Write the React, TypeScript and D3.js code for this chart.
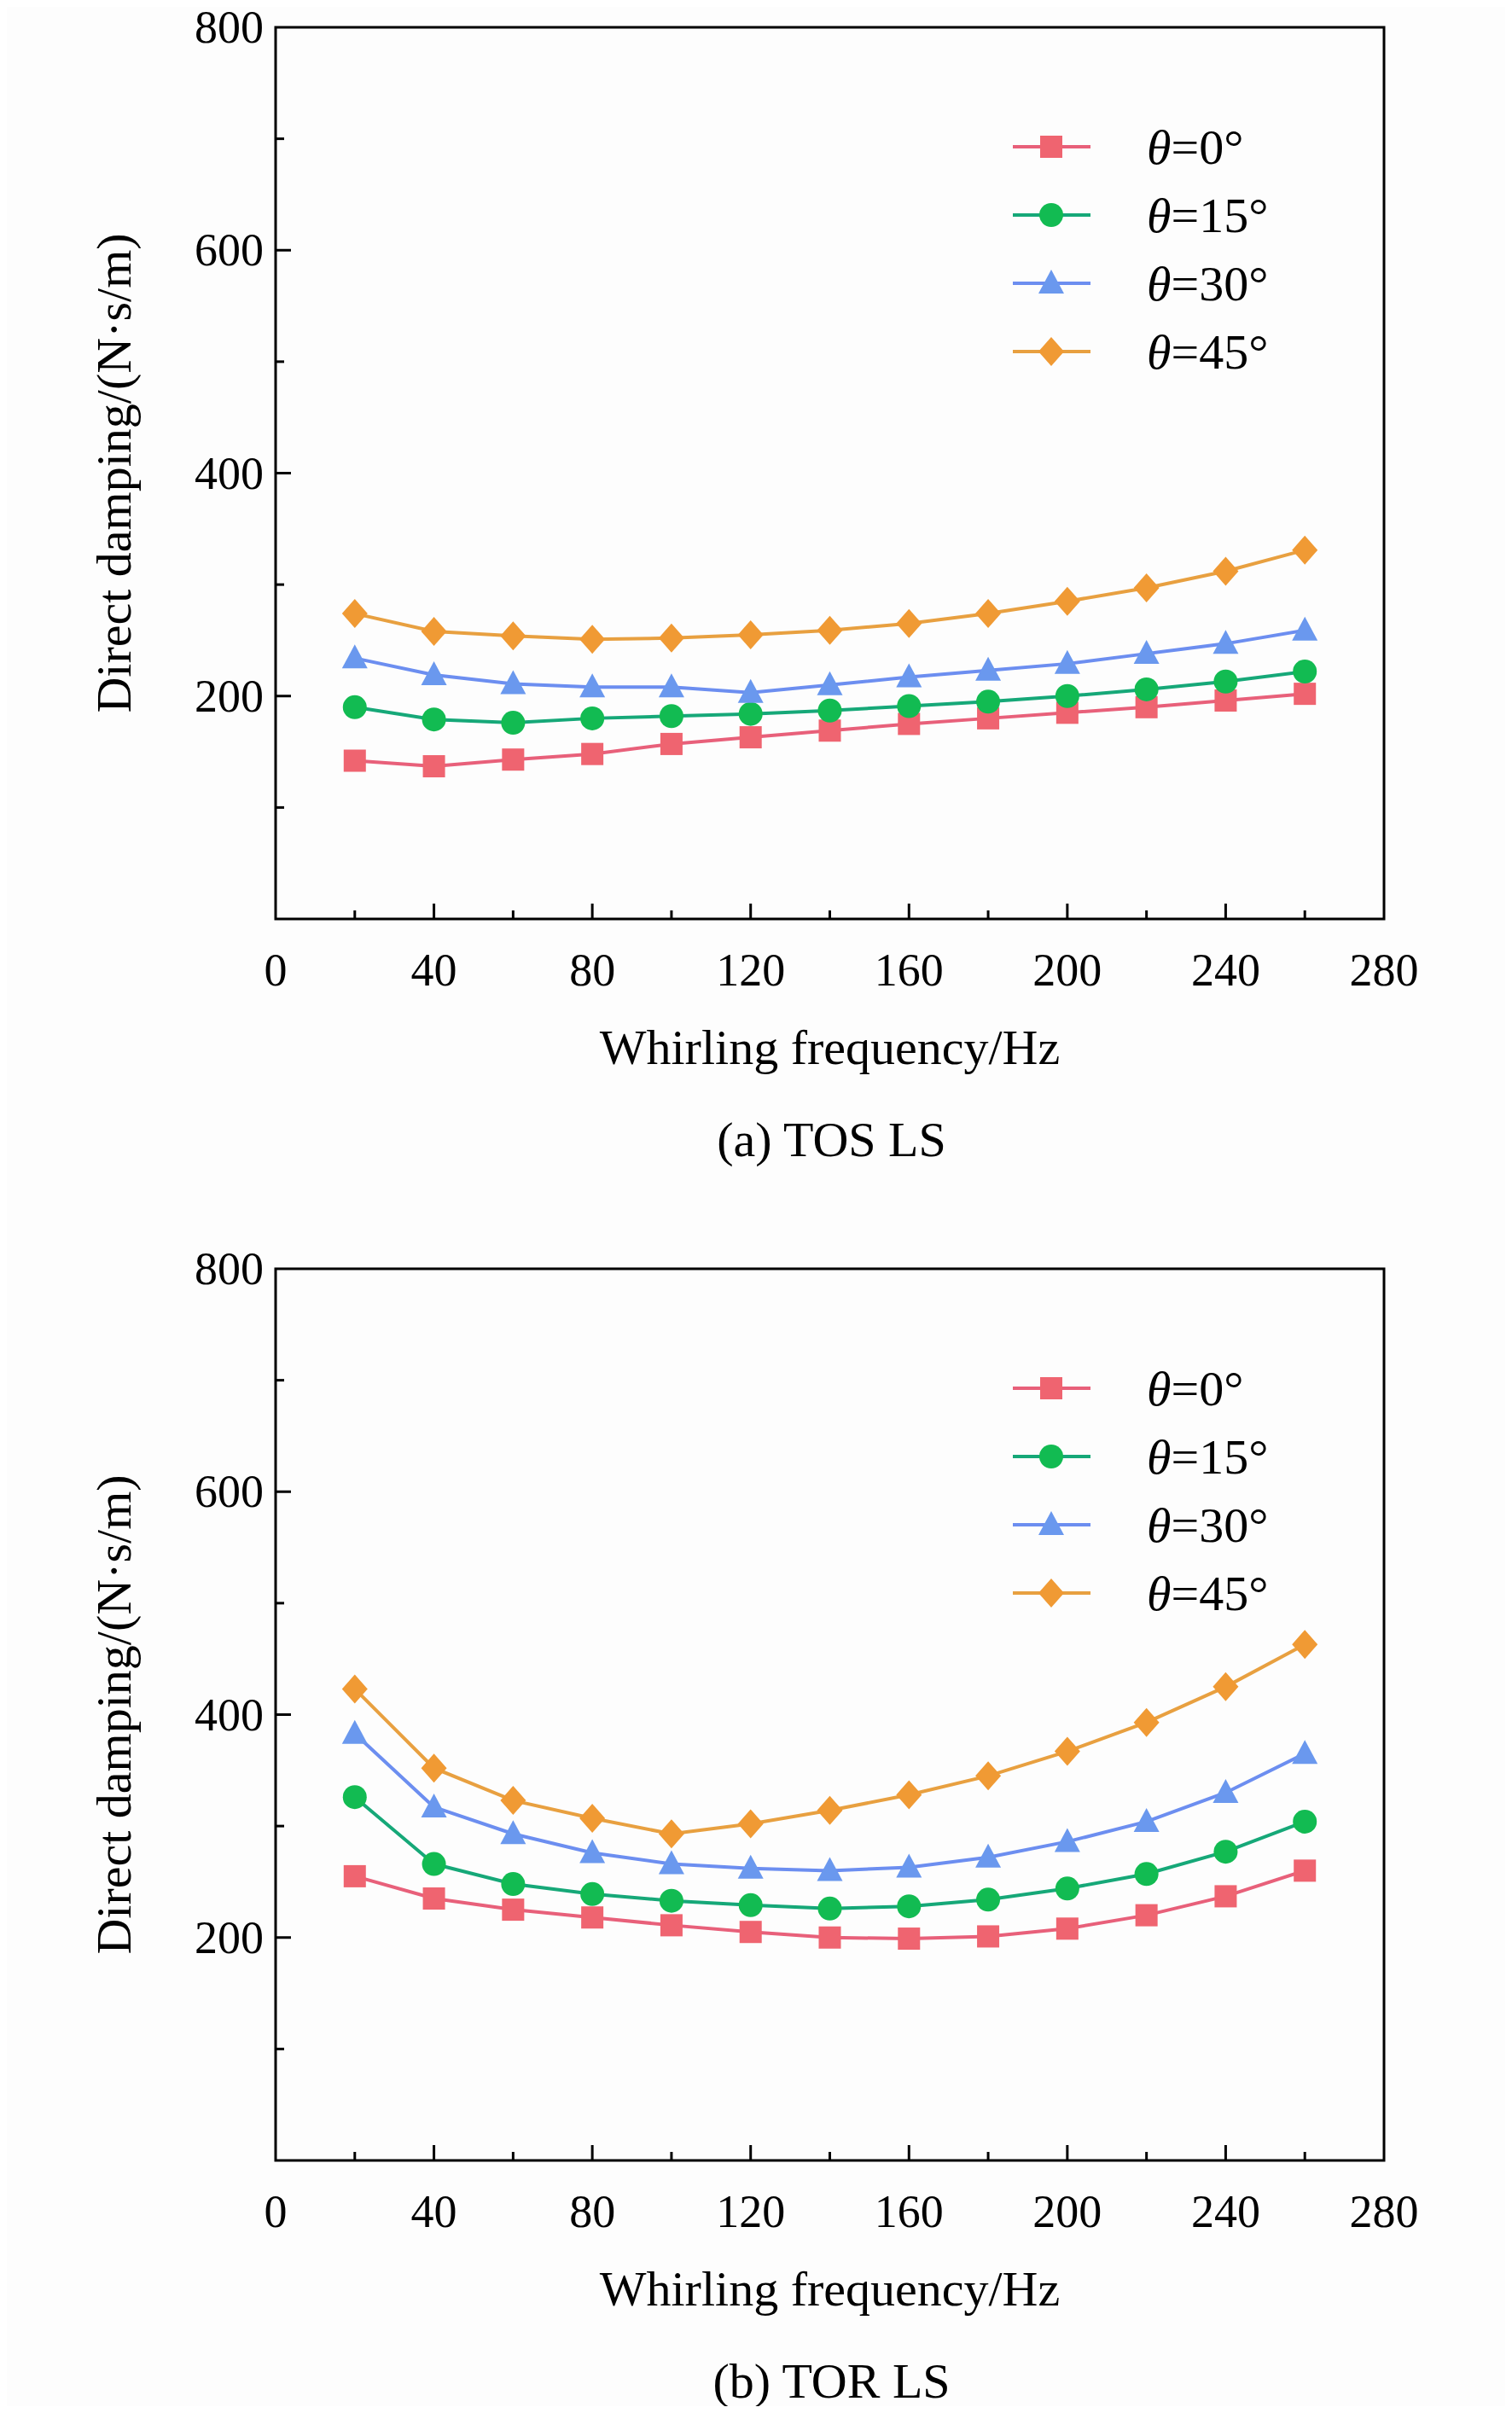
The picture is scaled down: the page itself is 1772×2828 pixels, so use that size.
import * as d3 from 'd3';

const freqs = [20, 40, 60, 80, 100, 120, 140, 160, 180, 200, 220, 240, 260];
const seriesNames = ['0°', '15°', '30°', '45°'];
const colors = ['#ef6470', '#12bb52', '#6a98ee', '#f09a34'];
const lineColors = ['#e8607a', '#16a878', '#6c8ef0', '#e8a040'];

const tosData = [
  [142, 137, 143, 148, 157, 163, 169, 175, 180, 185, 190, 196, 202],
  [190, 179, 176, 180, 182, 184, 187, 191, 195, 200, 206, 213, 222],
  [234, 219, 211, 208, 208, 203, 210, 217, 223, 229, 238, 247, 259],
  [274, 258, 254, 251, 252, 255, 259, 265, 274, 285, 297, 312, 331],
];
const torData = [
  [255, 235, 225, 218, 211, 205, 200, 199, 201, 208, 220, 237, 260],
  [326, 266, 248, 239, 233, 229, 226, 228, 234, 244, 257, 277, 304],
  [383, 317, 293, 276, 266, 262, 260, 263, 272, 286, 304, 330, 365],
  [423, 352, 323, 307, 293, 302, 314, 328, 345, 367, 393, 425, 463],
];
const xTicks = [0, 40, 80, 120, 160, 200, 240, 280];
const yTicks = [200, 400, 600, 800];

const font = '"Liberation Serif", "Times New Roman", serif';

function Marker({ kind, x, y, color }: { kind: number; x: number; y: number; color: string }) {
  const s = 13;
  if (kind === 0) return <rect x={x - s} y={y - s} width={2 * s} height={2 * s} fill={color} />;
  if (kind === 1) return <circle cx={x} cy={y} r={s + 1} fill={color} />;
  if (kind === 2) return <path d={`M${x},${y - s - 3}L${x + s + 2},${y + s - 1}L${x - s - 2},${y + s - 1}Z`} fill={color} />;
  return <path d={`M${x},${y - s - 4}L${x + s + 2},${y}L${x},${y + s + 4}L${x - s - 2},${y}Z`} fill={color} />;
}

function Panel({ top, data, caption }: { top: number; data: number[][]; caption: string }) {
  const left = 323, right = 1622, bottom = top + 1045;
  const x = d3.scaleLinear().domain([0, 280]).range([left, right]);
  const y = d3.scaleLinear().domain([0, 800]).range([bottom, top]);
  const line = d3.line<number>().x((_, i) => x(freqs[i])).y(d => y(d));
  const legendY = (i: number) => top + 140 + i * 80;
  return (
    <g fontFamily={font} fill="#000">
      <rect x={left} y={top} width={right - left} height={bottom - top} fill="none" stroke="#000" strokeWidth={3} />
      {d3.range(100, 800, 100).map(v => (
        <line key={v} x1={left} x2={left + (v % 200 === 0 ? 18 : 10)} y1={y(v)} y2={y(v)} stroke="#000" strokeWidth={3} />
      ))}
      {d3.range(20, 280, 20).map(v => (
        <line key={v} x1={x(v)} x2={x(v)} y1={bottom} y2={bottom - (v % 40 === 0 ? 18 : 10)} stroke="#000" strokeWidth={3} />
      ))}
      {yTicks.map(v => (
        <text key={v} x={left - 14} y={y(v) + 18} fontSize={54} textAnchor="end">{v}</text>
      ))}
      {xTicks.map(v => (
        <text key={v} x={x(v)} y={bottom + 78} fontSize={54} textAnchor="middle">{v}</text>
      ))}
      <text x={(left + right) / 2} y={bottom + 170} fontSize={58} textAnchor="middle">Whirling frequency/Hz</text>
      <text x={(left + right) / 2 + 2} y={bottom + 278} fontSize={58} textAnchor="middle">{caption}</text>
      <text transform={`translate(153,${(top + bottom) / 2}) rotate(-90)`} fontSize={58} textAnchor="middle">Direct damping/(N·s/m)</text>
      {data.map((s, k) => (
        <g key={k}>
          <path d={line(s) ?? ''} fill="none" stroke={lineColors[k]} strokeWidth={4} />
          {s.map((v, i) => <Marker key={i} kind={k} x={x(freqs[i])} y={y(v)} color={colors[k]} />)}
        </g>
      ))}
      {seriesNames.map((n, k) => (
        <g key={n}>
          <line x1={1187} x2={1278} y1={legendY(k)} y2={legendY(k)} stroke={lineColors[k]} strokeWidth={4} />
          <Marker kind={k} x={1232} y={legendY(k)} color={colors[k]} />
          <text x={1344} y={legendY(k) + 20} fontSize={58}><tspan fontStyle="italic">θ</tspan>={n}</text>
        </g>
      ))}
    </g>
  );
}

export default function App() {
  return (
    <svg width={1772} height={2828} style={{ display: 'block', margin: -8, background: '#fdfdfd' }}>
      <Panel top={32} data={tosData} caption="(a) TOS LS" />
      <Panel top={1487} data={torData} caption="(b) TOR LS" />
    </svg>
  );
}
